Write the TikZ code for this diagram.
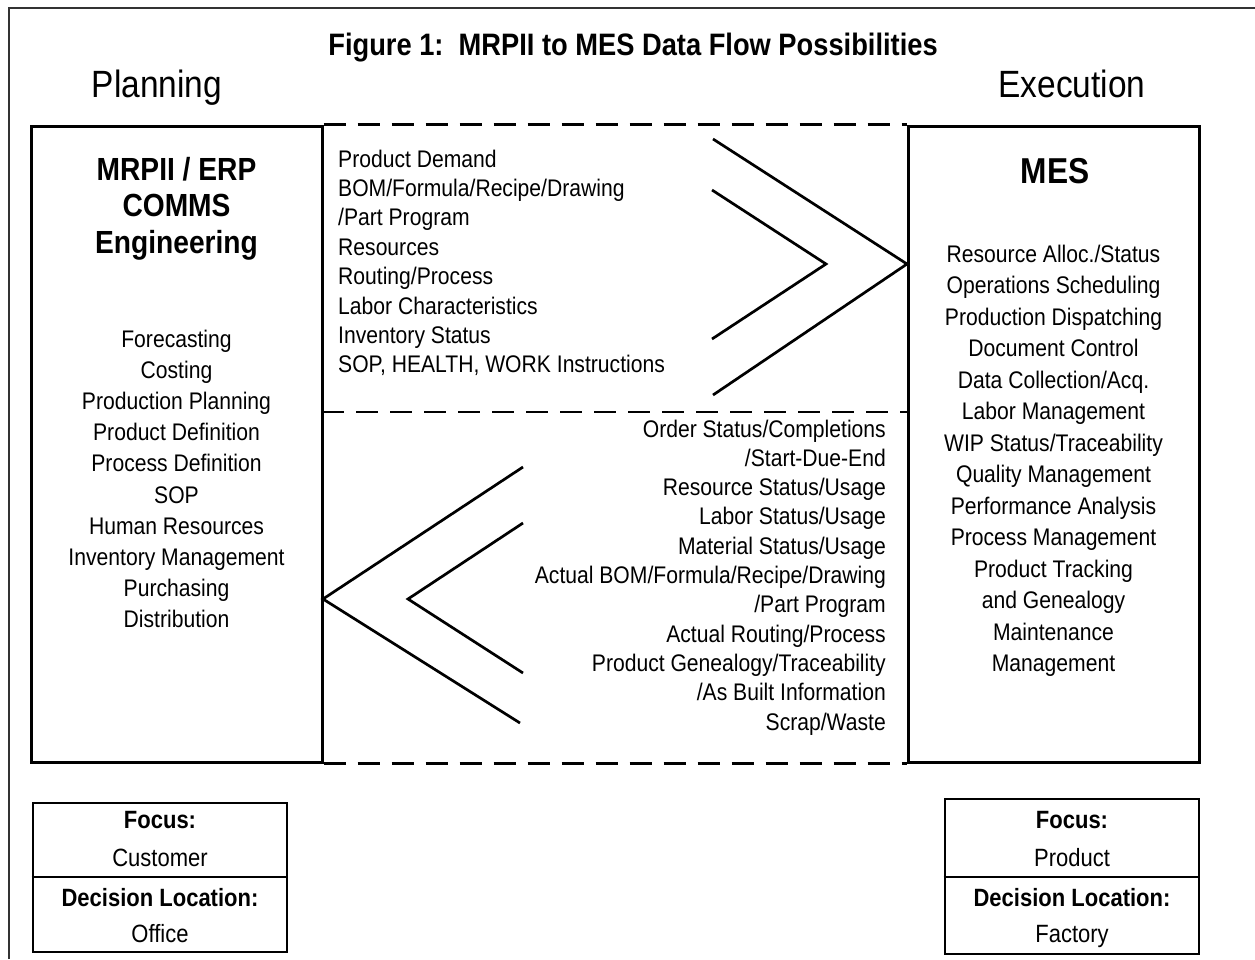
\documentclass[tikz,border=0pt]{standalone}
\usepackage{fontspec}
\setmainfont{Liberation Sans}[FakeStretch=0.88]
\usetikzlibrary{positioning}

\begin{document}
\begin{tikzpicture}[
    x=1pt, y=-1pt,
    bigbox/.style={draw, line width=3pt, minimum width=291pt, minimum height=636pt, inner sep=0pt},
    smallbox/.style={draw, line width=2.6pt, minimum width=254pt, inner sep=0pt},
    flowline/.style={line width=2.7pt},
    dashline/.style={line width=2.8pt, dash pattern=on 22pt off 12pt},
    item/.style={inner sep=0pt, font=\fontsize{24}{29}\selectfont},
    heading/.style={inner sep=0pt, anchor=base, font=\bfseries\fontsize{32}{32}\selectfont},
    boxtext/.style={inner sep=0pt, anchor=base, font=\fontsize{25}{25}\selectfont}
]
\useasboundingbox (0,0) rectangle (1255,959);

% Frame
\draw[line width=1.4pt, black!80] (9,959) -- (9,8) -- (1255,8);

% Titles
\node[inner sep=0pt, anchor=base, font=\bfseries\fontsize{31}{31}\selectfont] (title) at (633,55) {Figure 1:\ \ MRPII to MES Data Flow Possibilities};
\node[inner sep=0pt, anchor=base, font=\fontsize{38}{38}\selectfont] (planning) at (157,97) {Planning};
\node[inner sep=0pt, anchor=base, font=\fontsize{38}{38}\selectfont] (execution) at (1072,97) {Execution};

% Main boxes
\node[bigbox] (erp) at (176.5,444) {};
\node[bigbox] (mes) at (1053.5,444) {};
\coordinate (midL) at (322,412);
\coordinate (midR) at (908,412);
\draw[dashline] (erp.north east) -- (mes.north west);
\draw[dashline] (midL) -- (midR);
\draw[dashline] (erp.south east) -- (mes.south west);

% Planning side
\node[heading] (erp-1) at (176.5,180) {MRPII / ERP};
\node[heading] (erp-2) at (176.5,216.5) {COMMS};
\node[heading] (erp-3) at (176.5,253) {Engineering};
\foreach \txt [count=\i from 0] in {Forecasting, Costing, Production Planning,
    Product Definition, Process Definition, SOP, Human Resources,
    Inventory Management, Purchasing, Distribution}
  \node[item, anchor=base] (plan-\i) at (176.5,347+31.2*\i) {\txt};

% Execution side
\node[heading, font=\bfseries\fontsize{36}{36}\selectfont] (mes-1) at (1055,183) {MES};
\foreach \txt [count=\i from 0] in {Resource Alloc./Status, Operations Scheduling,
    Production Dispatching, Document Control, Data Collection/Acq.,
    Labor Management, WIP Status/Traceability, Quality Management,
    Performance Analysis, Process Management, Product Tracking,
    and Genealogy, Maintenance, Management}
  \node[item, anchor=base] (exec-\i) at (1053.5,262+31.5*\i) {\txt};

% Downward flow
\foreach \txt [count=\i from 0] in {Product Demand, BOM/Formula/Recipe/Drawing,
    /Part Program, Resources, Routing/Process, Labor Characteristics,
    Inventory Status, {SOP, HEALTH, WORK Instructions}}
  \node[item, anchor=base west] (down-\i) at (338,167+29.4*\i) {\txt};
\draw[flowline] (713,139) -- (907,264) -- (713,395);
\draw[flowline] (712,190) -- (826,264) -- (712,339);

% Upward flow
\foreach \txt [count=\i from 0] in {Order Status/Completions, /Start-Due-End,
    Resource Status/Usage, Labor Status/Usage, Material Status/Usage,
    Actual BOM/Formula/Recipe/Drawing, /Part Program, Actual Routing/Process,
    Product Genealogy/Traceability, /As Built Information, Scrap/Waste}
  \node[item, anchor=base east] (up-\i) at (886,437+29.3*\i) {\txt};
\draw[flowline] (523,467) -- (323,599) -- (520,723);
\draw[flowline] (523,523) -- (408,599) -- (523,673);

% Focus boxes
\node[smallbox, minimum height=149pt] (focusL) at (160,877.5) {};
\draw[line width=2.6pt] (focusL.west |- 0,877) -- (focusL.east |- 0,877);
\node[boxtext, font=\bfseries\fontsize{25}{25}\selectfont] (focusL-1) at (160,828) {Focus:};
\node[boxtext] (focusL-2) at (160,866) {Customer};
\node[boxtext, font=\bfseries\fontsize{25}{25}\selectfont] (focusL-3) at (160,906) {Decision Location:};
\node[boxtext] (focusL-4) at (160,942) {Office};

\node[smallbox, minimum height=155pt] (focusR) at (1072,876.5) {};
\draw[line width=2.6pt] (focusR.west |- 0,877) -- (focusR.east |- 0,877);
\node[boxtext, font=\bfseries\fontsize{25}{25}\selectfont] (focusR-1) at (1072,828) {Focus:};
\node[boxtext] (focusR-2) at (1072,866) {Product};
\node[boxtext, font=\bfseries\fontsize{25}{25}\selectfont] (focusR-3) at (1072,906) {Decision Location:};
\node[boxtext] (focusR-4) at (1072,942) {Factory};

\end{tikzpicture}
\end{document}
